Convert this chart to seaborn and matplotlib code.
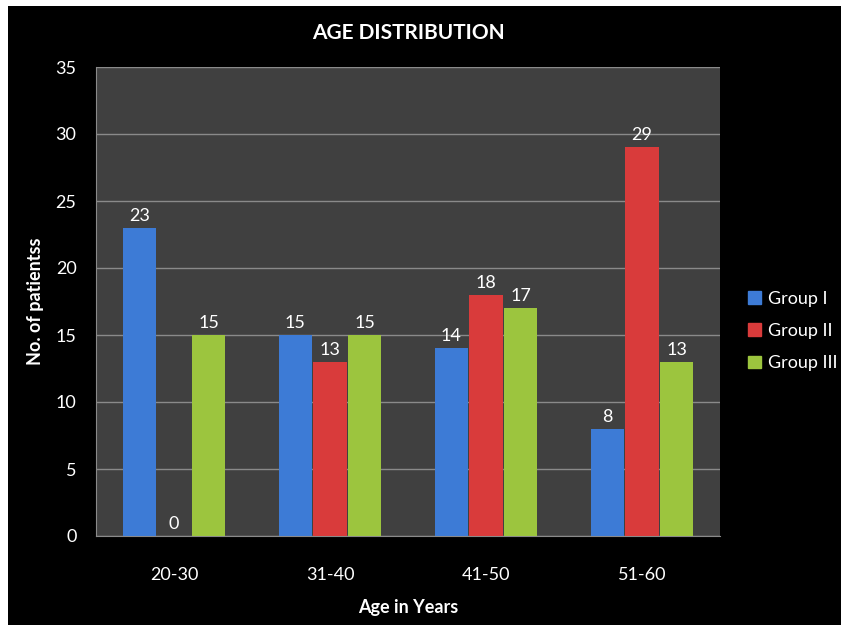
import pandas as pd
import seaborn as sns
import matplotlib
matplotlib.use("Agg")
from matplotlib import pyplot as plt
from matplotlib.patches import Rectangle

age_groups = ["20-30", "31-40", "41-50", "51-60"]
series_names = ["Group I", "Group II", "Group III"]
group_1 = [23, 15, 14, 8]
group_2 = [0, 13, 18, 29]
group_3 = [15, 15, 17, 13]
colors = ["#3d7bd6", "#d93b3b", "#9cc53e"]

sns.set_style("white")
plt.rcParams["font.family"] = ["Lato", "DejaVu Sans"]

rows = []
for name, vals in zip(series_names, [group_1, group_2, group_3]):
    for age, v in zip(age_groups, vals):
        rows.append({"age": age, "group": name, "count": v})
df = pd.DataFrame(rows)

fig = plt.figure(figsize=(8.41, 6.25), dpi=100)
fig.patch.set_facecolor("white")
# black panel, white strip on the top and left edges
fig.patches.append(Rectangle((8 / 841, 0), 1, 1 - 6 / 625,
                             transform=fig.transFigure, facecolor="black",
                             edgecolor="none", zorder=-10))

ax = fig.add_axes([96 / 841, 89 / 625, 624 / 841, 469 / 625])
ax.set_facecolor("#404040")

sns.barplot(data=df, x="age", y="count", hue="group", palette=colors,
            saturation=1, width=0.67, gap=0.05, ax=ax, edgecolor="none",
            zorder=3, legend=False)

for cont in ax.containers:
    ax.bar_label(cont, padding=3, color="white", fontsize=13)

ax.set_ylim(0, 35)
ax.set_yticks(range(0, 36, 5))
ax.yaxis.grid(True, color="#8a8a8a", linewidth=1)
ax.set_axisbelow(True)
for side in ["top", "right"]:
    ax.spines[side].set_visible(False)
for side in ["left", "bottom"]:
    ax.spines[side].set_color("#8a8a8a")
ax.tick_params(axis="y", colors="#8a8a8a", length=6, labelcolor="white",
               labelsize=13, pad=8)
ax.tick_params(axis="x", length=0, labelcolor="white", labelsize=13, pad=22)

ax.set_xlabel("Age in Years", color="white", fontsize=13, fontweight="bold",
              labelpad=12)
ax.set_ylabel("No. of patientss", color="white", fontsize=13,
              fontweight="bold", labelpad=8)
ax.set_title("AGE DISTRIBUTION", color="white", fontsize=15,
             fontweight="bold", pad=20)

handles = [Rectangle((0, 0), 1, 1, color=c) for c in colors]
fig.legend(handles, series_names, loc="center left",
           bbox_to_anchor=(732 / 841, 1 - 331 / 625), frameon=False,
           labelcolor="white", fontsize=13, handlelength=0.7,
           handleheight=0.7, handletextpad=0.4, labelspacing=0.9)

fig.savefig("out.png", dpi=100, facecolor=fig.get_facecolor())
